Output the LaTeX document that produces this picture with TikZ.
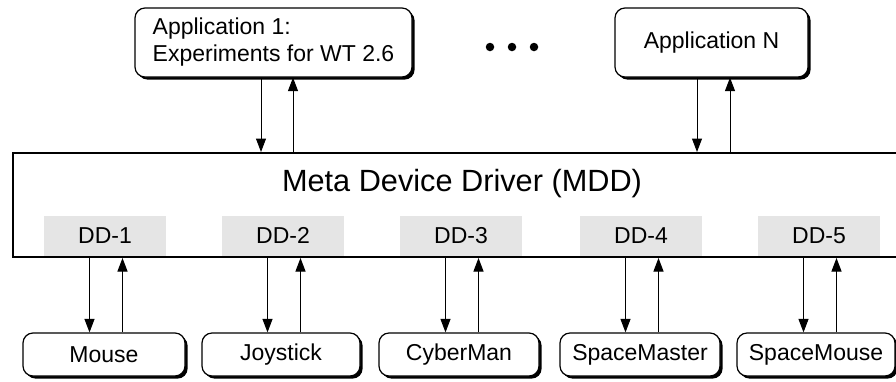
\documentclass[tikz,border=0pt]{standalone}
\usepackage{fontspec}
\setmainfont{Liberation Sans}
\usetikzlibrary{arrows.meta,shadows}

\begin{document}
\begin{tikzpicture}[x=1pt,y=-1pt,
  font=\fontsize{23}{27}\selectfont,
  appbox/.style={draw=black,line width=1.2pt,fill=white,rounded corners=10pt,
    inner sep=0pt,
    general shadow={fill=black,shadow xshift=2.6pt,shadow yshift=-2.6pt}},
  devbox/.style={appbox,minimum width=160pt,minimum height=43pt},
  ddbox/.style={fill=black!10,inner sep=0pt,minimum width=122pt,minimum height=39.5pt},
  mddbox/.style={draw=black,line width=2pt,fill=white,inner sep=0pt},
  dotnode/.style={circle,fill=black,inner sep=0pt,minimum size=8.5pt},
  arr/.style={line width=1pt,-{Triangle[length=13.5pt,width=10pt]}}]

\useasboundingbox (0,0) rectangle (896,381);

% applications on top
\node[appbox,minimum width=277pt,minimum height=69pt,align=left] (app1) at (273.5,42.5)
  {Application 1:\\Experiments for WT 2.6};
\node[appbox,minimum width=193pt,minimum height=69pt] (appn) at (711.5,42.5) {Application N};
\node[dotnode] (d1) at (490,47) {};
\node[dotnode] (d2) at (512,47) {};
\node[dotnode] (d3) at (534,47) {};

% meta device driver (runs past the right margin)
\node[mddbox,minimum width=890pt,minimum height=104pt] (mdd) at (458,205) {};
\node[font=\fontsize{30.7}{36}\selectfont] (mddlabel) at (462,184) {Meta Device Driver (MDD)};

% device drivers inside the MDD
\node[ddbox] (dd1) at (105,235.8) {DD-1};
\node[ddbox] (dd2) at (283,235.8) {DD-2};
\node[ddbox] (dd3) at (461,235.8) {DD-3};
\node[ddbox] (dd4) at (641,235.8) {DD-4};
\node[ddbox] (dd5) at (819,235.8) {DD-5};

% input devices
\node[devbox,minimum width=162pt] (mouse) at (104,354.5) {Mouse};
\node[devbox,minimum width=158pt] (joy) at (281,354.5) {Joystick};
\node[devbox] (cyber) at (459,354.5) {CyberMan};
\node[devbox] (smaster) at (640,354.5) {SpaceMaster};
\node[devbox,minimum width=158pt] (smouse) at (816,354.5) {SpaceMouse};

% application <-> MDD
\draw[arr] ([xshift=-12.5pt]app1.south) -- ([xshift=-12.5pt]app1.south |- mdd.north);
\draw[arr] ([xshift=19.5pt]app1.south |- mdd.north) -- ([xshift=19.5pt]app1.south);
\draw[arr] ([xshift=-14.5pt]appn.south) -- ([xshift=-14.5pt]appn.south |- mdd.north);
\draw[arr] ([xshift=18.5pt]appn.south |- mdd.north) -- ([xshift=18.5pt]appn.south);

% drivers <-> devices
\foreach \dd/\dev in {dd1/mouse,dd2/joy,dd3/cyber,dd4/smaster,dd5/smouse}{
  \draw[arr] ([xshift=-15.5pt]\dd.south |- mdd.south) -- ([xshift=-15.5pt]\dd.south |- \dev.north);
  \draw[arr] ([xshift=17.5pt]\dd.south |- \dev.north) -- ([xshift=17.5pt]\dd.south |- mdd.south);
}
\end{tikzpicture}
\end{document}
